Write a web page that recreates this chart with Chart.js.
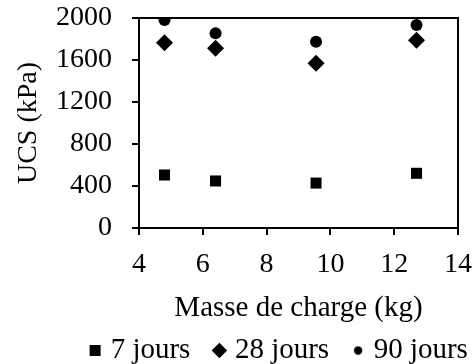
<!DOCTYPE html>
<html>
<head>
<meta charset="utf-8">
<script src="https://cdn.jsdelivr.net/npm/chart.js@4.4.1/dist/chart.umd.min.js"></script>
<style>
  html, body { margin: 0; padding: 0; background: #fff; }
  #wrap { width: 476px; height: 364px; }
</style>
</head>
<body>
<div id="wrap"><canvas id="ucsChart"></canvas></div>
<script>
// Masse de charge (kg)
const masse = [4.8, 6.4, 9.55, 12.7];
// UCS (kPa) for each curing time
const ucs7 = [505, 448, 428, 521];
const ucs28 = [1765, 1711, 1568, 1787];
const ucs90 = [1981, 1854, 1774, 1933];
const xTicks = [4, 6, 8, 10, 12, 14];
const yTicks = [0, 400, 800, 1200, 1600, 2000];

const serif = '"Liberation Serif", "Times New Roman", serif';

function pts(values) {
  return values.map((v, i) => ({ x: masse[i], y: v }));
}

// smaller dot for the legend entry of the circles
const legendDot = document.createElement('canvas');
legendDot.width = 10;
legendDot.height = 10;
const dctx = legendDot.getContext('2d');
dctx.fillStyle = '#000';
dctx.beginPath();
dctx.arc(5, 5, 4.2, 0, Math.PI * 2);
dctx.fill();

// nudge the legend to where it sits in the original figure
const moveLegend = {
  id: 'moveLegend',
  afterLayout(chart) {
    const lg = chart.legend;
    lg.left += 52; lg.right += 52;
    lg.top += 11; lg.bottom += 11;
  }
};

// keep the tick labels from eating into the plot area
function noPad(s) {
  s.paddingTop = 0; s.paddingBottom = 0;
  s.paddingLeft = 0; s.paddingRight = 0;
}

const ctx = document.getElementById('ucsChart').getContext('2d');
const ucsChart = new Chart(ctx, {
  type: 'scatter',
  data: {
    datasets: [
      { label: '7 jours', data: pts(ucs7), pointStyle: 'rect', pointRadius: 7.8, backgroundColor: '#000', borderColor: '#000', borderWidth: 0 },
      { label: '28 jours', data: pts(ucs28), pointStyle: 'rectRot', pointRadius: 8.5, backgroundColor: '#000', borderColor: '#000', borderWidth: 0 },
      { label: '90 jours', data: pts(ucs90), pointStyle: 'circle', pointRadius: 6, backgroundColor: '#000', borderColor: '#000', borderWidth: 0 }
    ]
  },
  plugins: [moveLegend],
  options: {
    responsive: true,
    maintainAspectRatio: false,
    animation: false,
    layout: { autoPadding: false, padding: { left: 0, right: 18, top: 18, bottom: 0 } },
    plugins: {
      tooltip: { enabled: false },
      legend: {
        position: 'bottom',
        labels: {
          usePointStyle: true,
          boxHeight: 11,
          boxWidth: 2,
          padding: 28,
          color: '#000',
          font: { family: serif, size: 29 },
          generateLabels: (chart) => {
            const items = Chart.defaults.plugins.legend.labels.generateLabels(chart);
            items[2].pointStyle = legendDot;
            return items;
          }
        }
      }
    },
    scales: {
      x: {
        type: 'linear',
        min: 4,
        max: 14,
        afterBuildTicks: (s) => { s.ticks = xTicks.map(v => ({ value: v })); },
        afterFit: (s) => { s.height = 69; noPad(s); },
        border: { color: '#000', width: 2 },
        grid: { drawOnChartArea: false, color: '#000', tickLength: 7, lineWidth: 2 },
        ticks: { color: '#000', padding: 13, maxRotation: 0, font: { family: serif, size: 28 }, callback: (v) => String(v) },
        title: { display: true, text: 'Masse de charge (kg)', color: '#000', padding: { top: 0, bottom: -29 }, font: { family: serif, size: 29 } }
      },
      y: {
        min: 0,
        max: 2000,
        afterBuildTicks: (s) => { s.ticks = yTicks.map(v => ({ value: v })); },
        afterFit: (s) => { s.width = 139; noPad(s); },
        border: { color: '#000', width: 2 },
        grid: { drawOnChartArea: false, color: '#000', tickLength: 7, lineWidth: 2 },
        ticks: { color: '#000', padding: 20, font: { family: serif, size: 28 }, callback: (v) => String(v) },
        title: { display: true, text: 'UCS (kPa)', color: '#000', padding: { top: 12, bottom: 0 }, font: { family: serif, size: 28 } }
      },
      x2: {
        type: 'linear', position: 'top', min: 4, max: 14,
        afterFit: (s) => { s.height = 0; noPad(s); },
        border: { color: '#000', width: 2 },
        grid: { display: false },
        ticks: { display: false }
      },
      y2: {
        type: 'linear', position: 'right', min: 0, max: 2000,
        afterFit: (s) => { s.width = 0; noPad(s); },
        border: { color: '#000', width: 2 },
        grid: { display: false },
        ticks: { display: false }
      }
    }
  }
});
</script>
</body>
</html>
